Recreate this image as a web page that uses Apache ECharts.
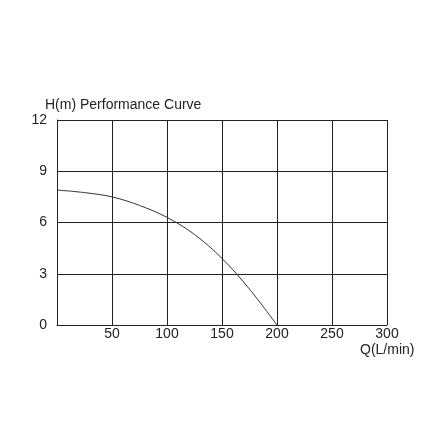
<!DOCTYPE html>
<html><head><meta charset="utf-8">
<script src="https://cdn.jsdelivr.net/npm/echarts@6/dist/echarts.min.js"></script>
<style>html,body{margin:0;padding:0;background:#fff}#c{width:447px;height:447px}</style>
</head><body><div id="c"></div>
<script>
const flowQ = [0, 25, 50, 75, 100, 125, 150, 175, 200];
const headH = [7.9, 7.75, 7.5, 7.0, 6.3, 5.3, 3.9, 2.1, 0];
const yTicks = [0, 3, 6, 9, 12];
const xTicks = [0, 50, 100, 150, 200, 250, 300];
const chart = echarts.init(document.getElementById('c'));
const font = 'Liberation Sans, Arial, sans-serif';
chart.setOption({
  animation: false,
  title: {text: 'H(m) Performance Curve', left: 40, top: 93, textStyle: {fontSize: 14, fontWeight: 'normal', color: '#222', fontFamily: font}},
  graphic: [{type: 'text', left: 360, top: 343, style: {text: 'Q(L/min)', fontSize: 14, fill: '#222', fontFamily: font}}],
  grid: {left: 57, right: 60, top: 120, bottom: 122},
  xAxis: {type: 'value', min: 0, max: 300, interval: 50,
    axisLine: {lineStyle: {color: '#222'}}, axisTick: {show: false},
    splitLine: {lineStyle: {color: '#222'}},
    axisLabel: {fontSize: 14, color: '#222', fontFamily: font, margin: 2,
      formatter: v => v === 0 ? '' : String(v)}},
  yAxis: {type: 'value', min: 0, max: 12, interval: 3,
    axisLine: {show: true, lineStyle: {color: '#222'}}, axisTick: {show: false},
    splitLine: {lineStyle: {color: '#222'}},
    axisLabel: {fontSize: 14, color: '#222', fontFamily: font, margin: 10}},
  series: [{type: 'line', smooth: 0.35, symbol: 'none', data: flowQ.map((q, i) => [q, headH[i]]),
    lineStyle: {color: '#333', width: 1}}]
});
</script></body></html>
